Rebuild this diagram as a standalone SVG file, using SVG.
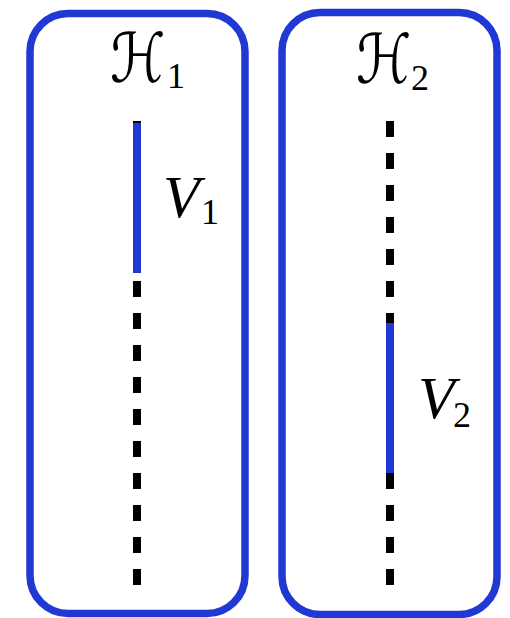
<svg xmlns="http://www.w3.org/2000/svg" width="510" height="618" viewBox="0 0 510 618">
<style>
.box{fill:#fff;stroke:#2038d4;stroke-width:7.5}
.dash{stroke:#000;stroke-width:8;stroke-dasharray:16 16;fill:none}
.sub{stroke:#2038d4;stroke-width:8;fill:none}
.m{font-family:"Liberation Serif","DejaVu Serif",serif;font-style:italic;fill:#000}
.c{font-family:"DejaVu Serif","DejaVu Sans",serif;fill:#000;font-size:56px}
.n{font-family:"Liberation Serif","DejaVu Serif",serif;fill:#000}
</style>
<rect width="510" height="618" fill="#fff"/>
<g id="H1">
<rect class="box" x="30" y="13.5" width="215" height="600" rx="38"/>
<text class="c" transform="translate(110 82) scale(1 1.22)">ℋ</text>
<text class="n" x="167" y="88" font-size="36">1</text>
</g>
<g id="H2">
<rect class="box" x="282" y="12.5" width="215" height="602" rx="38"/>
<text class="c" transform="translate(356 83) scale(1 1.22)">ℋ</text>
<text class="n" x="411" y="90" font-size="36">2</text>
</g>
<g id="connectors">
<line class="dash" x1="137" y1="121" x2="137" y2="585"/>
<line class="dash" x1="390" y1="121" x2="390" y2="585"/>
<line class="sub" x1="137" y1="123" x2="137" y2="273"/>
<line class="sub" x1="390" y1="323" x2="390" y2="473"/>
</g>
<g id="V1">
<text class="m" x="163" y="217" font-size="60">V</text>
<text class="n" x="201" y="224" font-size="36">1</text>
</g>
<g id="V2">
<text class="m" x="418" y="418" font-size="60">V</text>
<text class="n" x="453" y="427" font-size="36">2</text>
</g>
</svg>
